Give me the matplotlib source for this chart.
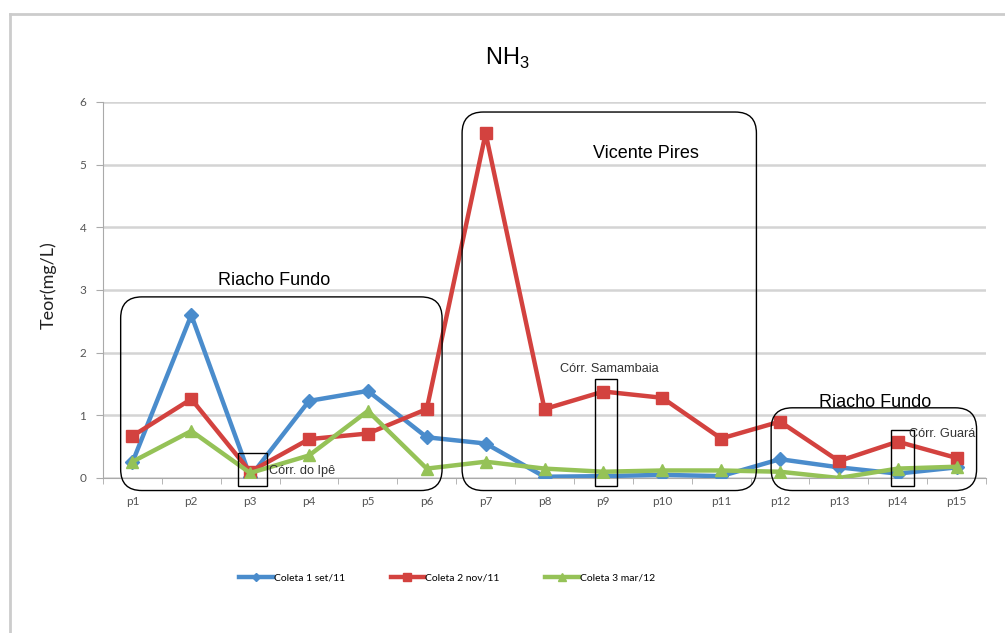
import numpy as np
import matplotlib.pyplot as plt
from matplotlib.patches import FancyBboxPatch, Rectangle
from matplotlib.lines import Line2D

plt.rcParams['font.family'] = ['Liberation Sans', 'DejaVu Sans']
plt.rcParams['mathtext.fontset'] = 'custom'
plt.rcParams['mathtext.rm'] = 'Liberation Sans'

# Data
points = ["p%d" % i for i in range(1, 16)]
coleta1 = [0.25, 2.6, 0.02, 1.23, 1.39, 0.65, 0.55, 0.02, 0.03, 0.05, 0.03, 0.30, 0.17, 0.07, 0.17]
coleta2 = [0.67, 1.26, 0.10, 0.62, 0.71, 1.10, 5.50, 1.10, 1.38, 1.28, 0.63, 0.90, 0.27, 0.58, 0.32]
coleta3 = [0.26, 0.75, 0.08, 0.36, 1.07, 0.15, 0.26, 0.15, 0.10, 0.12, 0.12, 0.10, 0.00, 0.15, 0.18]
labels = ["Coleta 1 set/11", "Coleta 2 nov/11", "Coleta 3 mar/12"]

# region groups: name, box x span, box top, label position
groups = ["Riacho Fundo", "Vicente Pires", "Riacho Fundo"]
group_x = [(-0.2, 5.26), (5.6, 10.6), (10.85, 14.34)]
group_top = [2.89, 5.84, 1.12]
group_label = [(2.4, 3.08), (8.72, 5.10), (12.62, 1.14)]

# small stream boxes: name, box x span, box top, label position
streams = ["Córr. do Ipê", "Córr. Samambaia", "Córr. Guará"]
stream_x = [(1.79, 2.28), (7.85, 8.23), (12.88, 13.27)]
stream_top = [0.40, 1.58, 0.77]
stream_label = [(2.32, 0.06), (7.27, 1.69), (13.2, 0.65)]

blue = '#4a8ccc'
red = '#d3423f'
green = '#95c257'

fig = plt.figure(figsize=(10.05, 6.33), dpi=100)
ax = fig.add_axes([103 / 1005, 1 - 478 / 633, 883 / 1005, 376 / 633])

x = np.arange(len(points))
ax.plot(x, coleta1, color=blue, lw=3.2, marker='D', ms=7, label=labels[0], zorder=3)
ax.plot(x, coleta2, color=red, lw=3.2, marker='s', ms=9, label=labels[1], zorder=4)
ax.plot(x, coleta3, color=green, lw=3.2, marker='^', ms=9, label=labels[2], zorder=5)

ax.set_xlim(-0.5, len(points) - 0.5)
ax.set_ylim(0, 6)
ax.set_yticks(range(0, 7))
ax.set_xticks(x)
ax.set_xticklabels(points, family=['Lato', 'DejaVu Sans'])
ax.set_xticks(np.arange(-0.5, len(points), 1), minor=True)
ax.tick_params(axis='x', which='major', length=0, pad=13, labelsize=8.5, labelcolor='#555555')
ax.tick_params(axis='x', which='minor', length=4, direction='out', color='#aaaaaa')
ax.tick_params(axis='y', length=5, color='#aaaaaa', labelsize=8.5, labelcolor='#555555', pad=7)
for t in ax.get_yticklabels():
    t.set_family(['Lato', 'DejaVu Sans'])
ax.grid(axis='y', color='#d4d4d4', lw=1.8)
ax.set_axisbelow(True)
for s in ['top', 'right']:
    ax.spines[s].set_visible(False)
ax.spines['left'].set_color('#aaaaaa')
ax.spines['bottom'].set_color('#aaaaaa')

# rounded group boxes
aspect = (883 / 15) / (376 / 6)
for name, (x0, x1), top, (tx, ty) in zip(groups, group_x, group_top, group_label):
    y0 = -0.2
    p = FancyBboxPatch((x0, y0), x1 - x0, top - y0,
                       boxstyle="round,pad=0,rounding_size=0.36",
                       mutation_aspect=aspect, fc='none', ec='black', lw=1.0,
                       clip_on=False, zorder=6)
    ax.add_patch(p)
    ax.text(tx, ty, name, fontsize=13, ha='center', va='baseline', zorder=7)

for name, (x0, x1), top, (tx, ty) in zip(streams, stream_x, stream_top, stream_label):
    r = Rectangle((x0, -0.13), x1 - x0, top + 0.13,
                  fc='none', ec='black', lw=1.0, clip_on=False, zorder=6)
    ax.add_patch(r)
    ax.text(tx, ty, name, fontsize=9.2, ha='left', va='baseline', color='#333333', zorder=7)

# title and axis label
fig.text(507 / 1005, 1 - 58 / 633, r'NH$_3$', fontsize=17, ha='center', va='center')
fig.text(48 / 1005, 1 - 285 / 633, 'Teor(mg/L)', fontsize=13, rotation=90,
         ha='center', va='center', family=['Lato', 'DejaVu Sans'], color='#222222')

# legend
fig.legend(loc='center', bbox_to_anchor=(447 / 1005, 1 - 578 / 633), ncol=3,
           frameon=False, markerscale=0.6, handlelength=3.2,
           handletextpad=0.1, columnspacing=4.4,
           prop={'family': ['Lato', 'DejaVu Sans'], 'size': 7.5})

# outer frame (partially visible)
fig.add_artist(Line2D([10 / 1005, 10 / 1005], [0, 1 - 14 / 633], color='#cccccc', lw=2,
                      transform=fig.transFigure))
fig.add_artist(Line2D([10 / 1005, 1], [1 - 14 / 633, 1 - 14 / 633], color='#cccccc', lw=2,
                      transform=fig.transFigure))

fig.savefig('out.png', dpi=100)
